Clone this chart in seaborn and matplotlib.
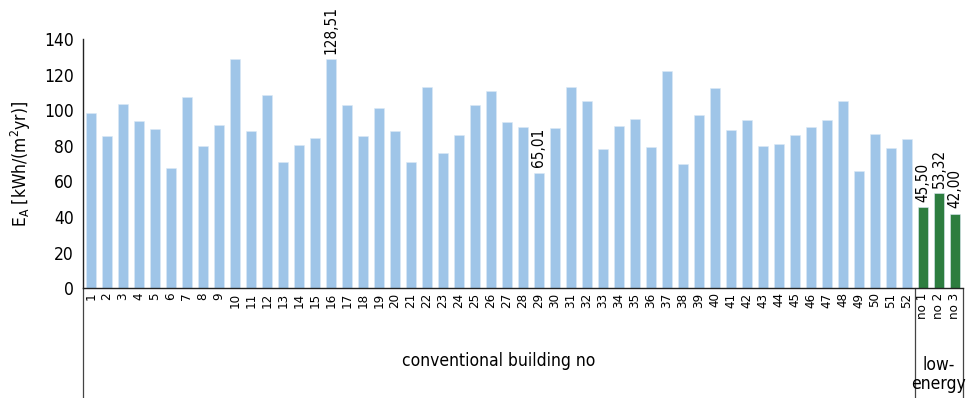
import numpy as np
import pandas as pd
import matplotlib
matplotlib.use("Agg")
import matplotlib.pyplot as plt
import seaborn as sns
from matplotlib import font_manager

# Data
conventional_labels = [str(i) for i in range(1, 53)]
conventional_values = [
    98.4, 85.3, 103.6, 93.7, 89.6, 67.6, 107.6, 80.1, 91.9, 128.9,
    88.1, 108.3, 71.1, 80.7, 84.6, 128.51, 102.7, 85.3, 101.4, 88.3,
    70.9, 112.8, 75.8, 86.1, 103.2, 110.7, 93.6, 90.8, 65.01, 89.8,
    112.8, 105.1, 78.4, 91.3, 95.0, 79.3, 122.3, 69.8, 97.3, 112.6,
    89.1, 94.7, 80.1, 81.0, 85.9, 90.5, 94.3, 105.1, 65.7, 86.4,
    78.8, 84.0,
]
low_energy_labels = ["no 1", "no 2", "no 3"]
low_energy_values = [45.50, 53.32, 42.00]
annotated = {"16": "128,51", "29": "65,01", "no 1": "45,50", "no 2": "53,32", "no 3": "42,00"}

sns.set_style("white")
names = {f.name for f in font_manager.fontManager.ttflist}
if "Liberation Sans Narrow" in names:
    plt.rcParams["font.family"] = ["Liberation Sans Narrow", "DejaVu Sans"]
    main_font = "Liberation Sans Narrow"
else:
    plt.rcParams["font.family"] = ["DejaVu Sans"]
    plt.rcParams["font.stretch"] = "condensed"
    main_font = "DejaVu Sans"
plt.rcParams["mathtext.fontset"] = "custom"
plt.rcParams["mathtext.rm"] = main_font
plt.rcParams["mathtext.it"] = main_font
plt.rcParams["text.color"] = "black"
plt.rcParams["axes.labelcolor"] = "black"
plt.rcParams["xtick.color"] = "black"
plt.rcParams["ytick.color"] = "black"

df = pd.DataFrame({
    "building": conventional_labels + low_energy_labels,
    "value": conventional_values + low_energy_values,
    "group": ["conventional"] * len(conventional_labels) + ["low-energy"] * len(low_energy_labels),
})

fig = plt.figure(figsize=(9.69, 3.98), dpi=100)
ax = fig.add_axes([83 / 969, 1 - 288.3 / 398, (963 - 83) / 969, 249.3 / 398])

sns.barplot(data=df, x="building", y="value", hue="group",
            palette={"conventional": "#9FC5E8", "low-energy": "#2D7D3F"},
            dodge=False, width=0.62, legend=False, ax=ax, saturation=1,
            edgecolor="#dce9f5", linewidth=0.4)

ax.set_ylim(0, 140)
ax.set_xlim(-0.5, len(df) - 0.5)
ax.set_yticks(np.arange(0, 141, 20))
ax.tick_params(axis="y", direction="inout", length=9, width=0.8, color="#444444", labelsize=12.5, pad=2)
ax.tick_params(axis="x", length=0, labelsize=9.5, pad=3)
ax.set_xticks(range(len(df)))
ax.set_xticklabels(df["building"], rotation=90, va="top", ha="center")
for s in ["top", "right"]:
    ax.spines[s].set_visible(False)
for s in ["left", "bottom"]:
    ax.spines[s].set_color("#222222")
    ax.spines[s].set_linewidth(1.0)

ax.set_xlabel("")
ax.set_ylabel("E$_{A}$ [kWh/(m$^{2}$yr)]", fontsize=12.5, labelpad=8)

# value labels
for patch, name in zip(ax.patches, df["building"]):
    if name in annotated:
        ax.annotate(annotated[name], (patch.get_x() + patch.get_width() / 2, patch.get_height()),
                    xytext=(0, 4), textcoords="offset points", rotation=90,
                    ha="center", va="bottom", fontsize=11)

# group separators and labels below the axis
trans = ax.get_xaxis_transform()
ybot = -(398 - 288.3) / 249.3
n_conv = len(conventional_labels)
for xb in [-0.5, n_conv - 0.5, len(df) - 0.5]:
    ax.plot([xb, xb], [0, ybot], color="#444444", lw=0.9, transform=trans, clip_on=False)
ax.text((n_conv - 1) / 2, -0.29, "conventional building no", transform=trans,
        ha="center", va="center", fontsize=12.5)
ax.text(n_conv + 1, -0.345, "low-\nenergy", transform=trans,
        ha="center", va="center", fontsize=12.5, linespacing=1.1)

fig.savefig("out.png", dpi=100)
